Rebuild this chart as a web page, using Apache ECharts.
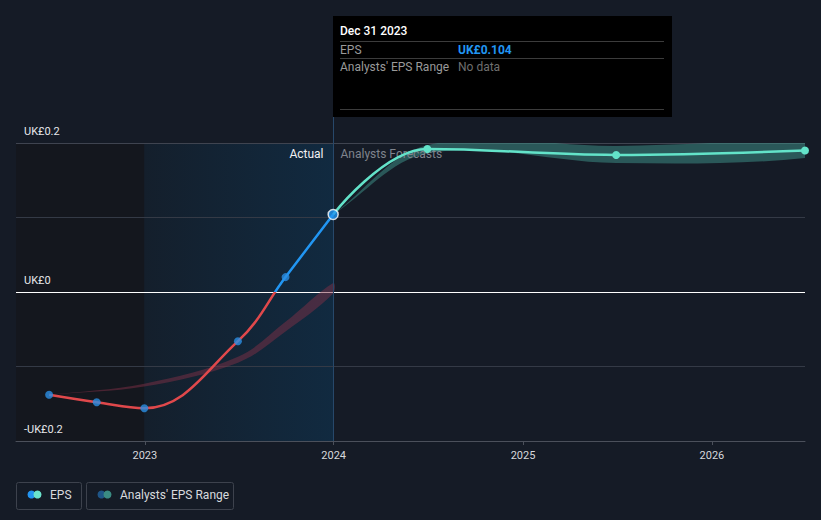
<!DOCTYPE html>
<html>
<head>
<meta charset="utf-8">
<script src="https://cdn.jsdelivr.net/npm/echarts@6/dist/echarts.min.js"></script>
<style>
html,body{margin:0;padding:0;background:#151b26;}
#c{width:821px;height:520px;}
</style>
</head>
<body>
<div id="c"></div>
<script>
// ---- data ----
const epsDates = ['2022-06-30','2022-09-30','2022-12-31','2023-06-30','2023-09-30','2023-12-31'];
const epsValues = [-0.138,-0.148,-0.156,-0.066,0.020,0.104];
const forecastDates = ['2023-12-31','2024-06-30','2025-06-30','2026-06-30'];
const forecastValues = [0.104,0.192,0.184,0.190];
const forecastLow = [0.104,0.186,0.173,0.180];
const forecastHigh = [0.104,0.197,0.196,0.200];
const pastRangeDates = ['2022-06-30','2022-12-31','2023-06-30','2023-09-30','2023-12-31'];
const pastRangeLow = [-0.138,-0.127,-0.095,-0.053,-0.002];
const pastRangeHigh = [-0.138,-0.123,-0.087,-0.040,0.012];
const yearTicks = ['2023-01-01','2024-01-01','2025-01-01','2026-01-01'];
const tooltipDate = 'Dec 31 2023';
const tooltipEPS = 'UK£0.104';

const FONT = 'Roboto, "Noto Sans", sans-serif';
const ts = d => { const p = d.split('-').map(Number); return Date.UTC(p[0], p[1] - 1, p[2]); };
const zip = (a, b) => a.map((d, i) => [ts(d), b[i]]);
const zip3 = (a, b, c) => a.map((d, i) => [ts(d), b[i], c[i]]);

const chart = echarts.init(document.getElementById('c'), null, {renderer: 'svg'});

const xMin = ts('2022-04-27'), xMax = ts('2026-06-30');
const actualStart = ts('2022-12-31'), actualEnd = ts('2023-12-31');
const yearTickValues = yearTicks.map(ts);

function yLabel(v) {
  if (Math.abs(v) < 1e-9) return 'UK£0';
  if (Math.abs(Math.abs(v) - 0.2) < 1e-9) return (v < 0 ? '-' : '') + 'UK£0.2';
  return '';
}

// band drawn as one smoothed polygon through the axis scales
function bandRenderer(fill) {
  return function (params, api) {
    if (params.dataIndex !== 0) return null;
    const n = params.dataInsideLength !== undefined ? null : null;
    const data = params.context.bandData;
    const upper = data.map(p => api.coord([p[0], p[2]]));
    const lower = data.map(p => api.coord([p[0], p[1]])).reverse();
    return {
      type: 'polygon',
      shape: {points: upper.concat(lower), smooth: 0.35},
      style: {fill: fill},
      silent: true
    };
  };
}
function makeBand(dataArr, fill, name) {
  return {
    name: name, type: 'custom', silent: true, z: 2,
    data: dataArr,
    encode: {x: 0, y: [1, 2]},
    renderItem: function (params, api) {
      params.context.bandData = dataArr;
      return bandRenderer(fill)(params, api);
    },
    clip: true
  };
}

const pastBand = zip3(pastRangeDates, pastRangeLow, pastRangeHigh);
const fcBand = zip3(forecastDates, forecastLow, forecastHigh);

const option = {
  backgroundColor: '#151b26',
  animation: false,
  textStyle: {fontFamily: FONT},
  grid: {left: 16, right: 16, top: 143, bottom: 79, containLabel: false},
  xAxis: {
    type: 'value',
    min: xMin, max: xMax,
    axisLine: {show: true, onZero: false, lineStyle: {color: '#4b505b', width: 1}},
    axisTick: {show: true, length: 4, lineStyle: {color: '#4b505b'}, customValues: yearTickValues},
    axisLabel: {
      color: '#d6d8dc', fontSize: 11, margin: 9, fontFamily: FONT,
      customValues: yearTickValues,
      formatter: v => String(new Date(v).getUTCFullYear())
    },
    splitLine: {show: false}
  },
  yAxis: {
    type: 'value',
    min: -0.2, max: 0.2, interval: 0.1,
    axisLine: {show: false},
    axisTick: {show: false},
    axisLabel: {
      inside: true, margin: 8, color: '#e6e7ea', fontSize: 11, fontFamily: FONT,
      verticalAlign: 'bottom', padding: [0, 0, 6, 0],
      formatter: yLabel
    },
    splitLine: {show: true, lineStyle: {color: ['#3a3f4b', '#343a46', '#ffffff', '#343a46', '#3f4450'], width: 1}}
  },
  series: [
    { // regions
      type: 'line', data: [], silent: true, z: -1,
      markArea: {
        silent: true, z: -1,
        data: [
          [{xAxis: xMin, itemStyle: {color: '#14171e'}}, {xAxis: actualStart}],
          [{xAxis: actualStart, itemStyle: {color: {type: 'linear', x: 0, y: 0, x2: 1, y2: 0,
            colorStops: [{offset: 0, color: '#141f2c'}, {offset: 1, color: '#112a40'}]}}}, {xAxis: actualEnd}]
        ]
      }
    },
    makeBand(pastBand, 'rgba(125,48,70,0.5)', "Analysts' EPS Range (past)"),
    makeBand(fcBand, 'rgba(64,150,140,0.5)', "Analysts' EPS Range"),
    { // EPS actual
      name: 'EPS', type: 'line', smooth: 0.4, symbol: 'none',
      lineStyle: {width: 2.5, color: '#2196f3'}, data: zip(epsDates, epsValues), z: 4
    },
    { // forecast line
      name: 'EPS forecast', type: 'line', smooth: 0.4,
      symbol: 'circle', symbolSize: 8, showAllSymbol: true,
      lineStyle: {width: 2.5, color: '#63e3c9'}, itemStyle: {color: '#63e3c9'},
      data: zip(forecastDates, forecastValues).map((p, i) => i === 0 ? {value: p, symbol: 'none'} : p),
      z: 5
    },
    { // EPS markers
      name: 'EPS points', type: 'scatter', symbolSize: 8,
      itemStyle: {color: '#2a8fe3'},
      data: zip(epsDates, epsValues).map((p, i) => i === epsDates.length - 1
        ? {value: p, symbolSize: 10, itemStyle: {color: '#2196f3', borderColor: '#ffffff', borderWidth: 1.5}}
        : p),
      z: 6
    }
  ]
};
chart.setOption(option);

const px = (d, v) => chart.convertToPixel({xAxisIndex: 0, yAxisIndex: 0}, [d, v]);
const split = px(actualEnd, 0.2);
const sx = Math.round(split[0]) + 0.5;
const topY = split[1];
const bottomY = px(actualEnd, -0.2)[1];
const zeroY = px(actualEnd, 0)[1];

const boxL = sx - 0.5, boxT = 16, boxW = 339, boxH = 101;
const tl = boxL + 7;

chart.setOption({
  series: [{}, {}, {}, {
    lineStyle: {color: {type: 'linear', global: true, x: 0, y: zeroY - 0.5, x2: 0, y2: zeroY + 0.5,
      colorStops: [{offset: 0, color: '#2196f3'}, {offset: 1, color: '#e0484b'}]}}
  }],
  graphic: [
    {type: 'line', z: 3, silent: true, shape: {x1: sx, y1: boxT + boxH, x2: sx, y2: bottomY}, style: {stroke: '#27486a', lineWidth: 1}},
    {type: 'text', z: 3, silent: true, style: {text: 'Actual', x: sx - 10, y: topY + 11, align: 'right', verticalAlign: 'middle', fill: '#f0f1f3', font: '12px ' + FONT}},
    {type: 'text', z: 3, silent: true, style: {text: 'Analysts Forecasts', x: sx + 7, y: topY + 11, align: 'left', verticalAlign: 'middle', fill: '#7f848d', font: '12px ' + FONT}},
    // tooltip box
    {type: 'rect', z: 20, silent: true, shape: {x: boxL, y: boxT, width: boxW, height: boxH}, style: {fill: '#000000'}},
    {type: 'text', z: 21, silent: true, style: {text: tooltipDate, x: tl, y: 31, verticalAlign: 'middle', fill: '#ffffff', font: '500 12px ' + FONT}},
    {type: 'line', z: 21, silent: true, shape: {x1: tl, y1: 41.5, x2: boxL + 331, y2: 41.5}, style: {stroke: '#3c3c3c', lineWidth: 1}},
    {type: 'text', z: 21, silent: true, style: {text: 'EPS', x: tl, y: 49.5, verticalAlign: 'middle', fill: '#9a9a9a', font: '12px ' + FONT}},
    {type: 'text', z: 21, silent: true, style: {text: tooltipEPS, x: boxL + 125, y: 49.5, verticalAlign: 'middle', fill: '#2196f3', font: 'bold 12px ' + FONT}},
    {type: 'line', z: 21, silent: true, shape: {x1: tl, y1: 58.5, x2: boxL + 331, y2: 58.5}, style: {stroke: '#3c3c3c', lineWidth: 1}},
    {type: 'text', z: 21, silent: true, style: {text: "Analysts' EPS Range", x: tl, y: 66.5, verticalAlign: 'middle', fill: '#9a9a9a', font: '12px ' + FONT}},
    {type: 'text', z: 21, silent: true, style: {text: 'No data', x: boxL + 125, y: 66.5, verticalAlign: 'middle', fill: '#6f6f6f', font: '12px ' + FONT}},
    {type: 'line', z: 21, silent: true, shape: {x1: tl, y1: 109.5, x2: boxL + 331, y2: 109.5}, style: {stroke: '#3c3c3c', lineWidth: 1}},
    // legend
    {type: 'rect', z: 10, silent: true, shape: {x: 16.5, y: 482.5, width: 65, height: 27, r: 2}, style: {fill: 'none', stroke: '#3d424d', lineWidth: 1}},
    {type: 'circle', z: 11, silent: true, shape: {cx: 31.5, cy: 494.5, r: 4}, style: {fill: '#2394f0'}},
    {type: 'circle', z: 12, silent: true, shape: {cx: 37.5, cy: 494.5, r: 4}, style: {fill: '#6be3cc'}},
    {type: 'text', z: 11, silent: true, style: {text: 'EPS', x: 50, y: 495, verticalAlign: 'middle', fill: '#d8dade', font: '12px ' + FONT}},
    {type: 'rect', z: 10, silent: true, shape: {x: 86.5, y: 482.5, width: 147, height: 27, r: 2}, style: {fill: 'none', stroke: '#3d424d', lineWidth: 1}},
    {type: 'circle', z: 11, silent: true, shape: {cx: 101.5, cy: 494.5, r: 4}, style: {fill: '#1f5587'}},
    {type: 'circle', z: 12, silent: true, shape: {cx: 107.5, cy: 494.5, r: 4}, style: {fill: '#3b8b83'}},
    {type: 'text', z: 11, silent: true, style: {text: "Analysts' EPS Range", x: 120, y: 495, verticalAlign: 'middle', fill: '#d8dade', font: '12px ' + FONT}}
  ]
});
</script>
</body>
</html>
